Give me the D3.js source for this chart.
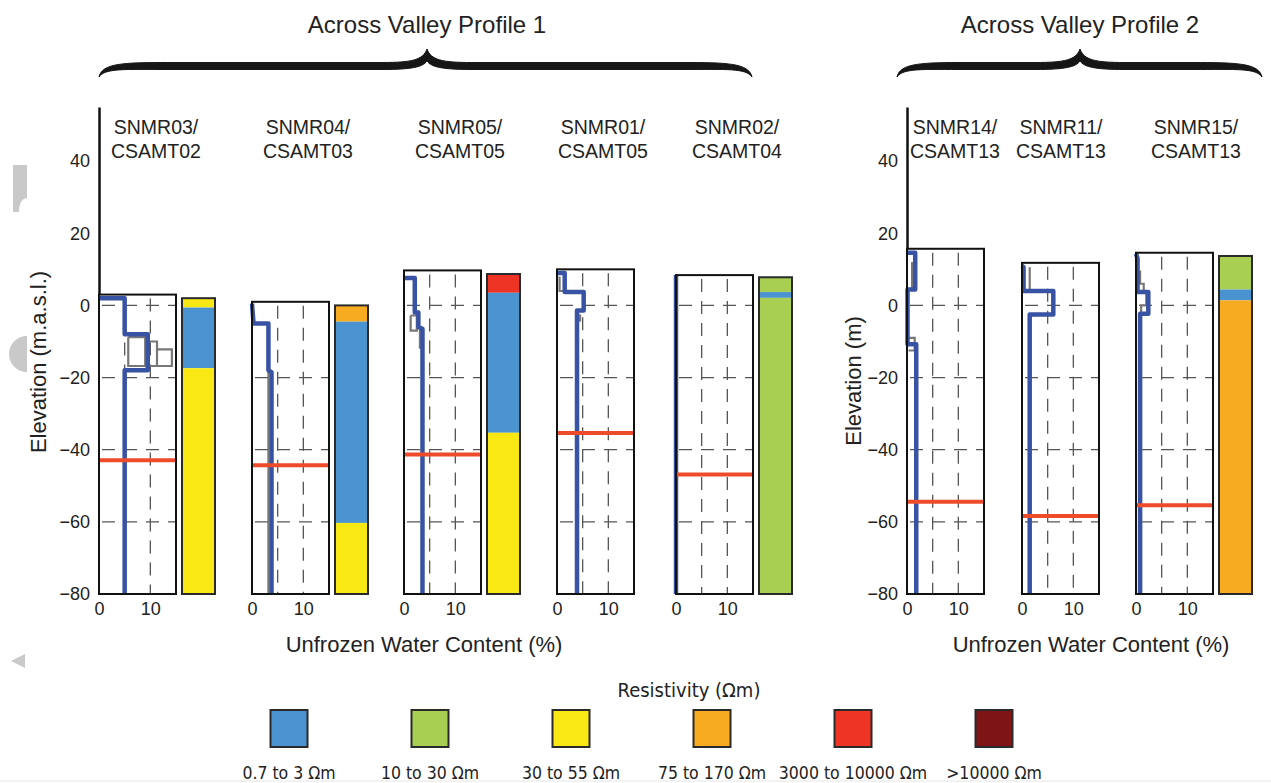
<!DOCTYPE html>
<html>
<head>
<meta charset="utf-8">
<script src="https://cdn.jsdelivr.net/npm/d3@7"></script>
<style>
  body { margin: 0; background: #fff; }
  svg { display: block; font-family: "Liberation Sans", Arial, Helvetica, sans-serif; }
  .narrow { font-family: "Liberation Sans Narrow", "DejaVu Sans Condensed", sans-serif; }
</style>
</head>
<body>
<script>
/********** Data **********/
var profileTitles = ["Across Valley Profile 1", "Across Valley Profile 2"]
var panelNames = [
  ["SNMR03/", "CSAMT02"], ["SNMR04/", "CSAMT03"], ["SNMR05/", "CSAMT05"],
  ["SNMR01/", "CSAMT05"], ["SNMR02/", "CSAMT04"],
  ["SNMR14/", "CSAMT13"], ["SNMR11/", "CSAMT13"], ["SNMR15/", "CSAMT13"]
]
var panelProfile = [1, 1, 1, 1, 1, 2, 2, 2]
// top of the SNMR model (m)
var boxTops = [3, 1, 9.7, 10, 8.4, 15.7, 11.8, 14.6]
// red line: depth of the frozen layer base (m)
var freezeDepth = [-42.9, -44.3, -41.3, -35.4, -46.9, -54.4, -58.4, -55.4]
// unfrozen water content profiles [percent, elevation]
var waterProfiles = [
  [[0, 2], [5, 2], [5, -8], [9.5, -8], [9.5, -18], [5, -18], [5, -80]],
  [[0, 0.5], [0.3, -5], [3.2, -5], [3.2, -18], [3.8, -18.5], [3.8, -80]],
  [[0, 7.6], [2.1, 7.6], [2.1, -2], [2.8, -2], [2.8, -6], [3.6, -6.5], [3.6, -80]],
  [[0, 9], [1.5, 9], [1.5, 3.7], [5.2, 3.7], [5.2, -1.4], [3.9, -1.4], [3.9, -80]],
  [[0, 8.4], [0, -80]],
  [[0, 14.6], [1.6, 14.6], [1.6, 4.4], [0.1, 4.4], [0.1, -10.8], [1.8, -10.8], [1.8, -80]],
  [[0, 11], [0.3, 10.6], [0.3, 4], [6.1, 4], [6.1, -2.5], [1.5, -2.5], [1.5, -80]],
  [[0, 14.3], [0.3, 13], [0.3, 3.7], [2.4, 3.7], [2.4, -2.3], [0.8, -2.3], [0.8, -80]]
]
// alternative (uncertainty) models, drawn in gray
var grayProfiles = [
  [[[5.7, -8.8], [5.7, -16.8], [14.2, -16.8], [14.2, -12.2], [11.3, -12.2], [11.3, -10], [9, -10], [9, -8.8], [5.7, -8.8]],
   [[9, -10], [9, -16.8]], [[11.3, -12.2], [11.3, -16.8]]],
  [[[3.2, -18], [3.2, -80]]],
  [[[1.3, -2.8], [1.3, -7], [2.5, -7], [2.5, -2.8], [1.3, -2.8]], [[3.1, -6], [3.1, -12]]],
  [[[0.5, 8], [0.5, 4], [1.5, 4]], [[4.5, -2.5], [4.5, -4.5]]],
  [],
  [[[1, 12], [1, 5], [1.5, 5]], [[0.3, -9], [1.5, -9], [1.5, -12.5], [0.3, -12.5]]],
  [[[1.5, 10.6], [1.5, 4.2]], [[6, 4.2], [6, -2.5], [1.5, -2.8]]],
  [[[0.8, 9.7], [0.8, 6], [1.5, 6], [1.5, 4], [2, 4], [2, 0], [1, 0], [1, -3]]]
]
// CSAMT resistivity columns [top, bottom, class]
var resistivityLayers = [
  [[2, -0.6, 2], [-0.6, -17.4, 0], [-17.4, -80, 2]],
  [[0, -4.5, 3], [-4.5, -60.3, 0], [-60.3, -80, 2]],
  [[8.7, 3.5, 4], [3.5, -35.3, 0], [-35.3, -80, 2]],
  null,
  [[7.8, 3.7, 1], [3.7, 2.1, 0], [2.1, -80, 1]],
  null,
  null,
  [[13.7, 4.4, 1], [4.4, 1.4, 0], [1.4, -80, 3]]
]
var legendLabels = ["0.7 to 3 \u03A9m", "10 to 30 \u03A9m", "30 to 55 \u03A9m", "75 to 170 \u03A9m", "3000 to 10000 \u03A9m", ">10000 \u03A9m"]
var legendColors = ["#4a93d0", "#a8cf52", "#f9e814", "#f6ab21", "#ee3424", "#7e1416"]
var yTicks = [40, 20, 0, -20, -40, -60, -80]
var xTicks = [0, 10]
var gridY = [20, 0, -20, -40, -60]
var gridX = [5, 10]

/********** Layout **********/
var width = 1271, height = 783
var panelX0 = [99, 252, 404, 557, 676, 907, 1022, 1136]
var panelW = 77, barOffset = 83, barW = 33
var axisX = [99, 907]
var nameX = [156, 308, 460, 603, 737, 955, 1061, 1196]

var svg = d3.select("body").append("svg")
    .attr("width", width)
    .attr("height", height)

var y = d3.scaleLinear().domain([-80, 55]).range([594, 107])

// gray artifacts on the left edge of the scan
var art = svg.append("g").attr("fill", "#c9c9c9")
art.append("path").attr("d", "M13,165 L27,165 L27,198 Q19,199 19,212 L13,212 Z")
art.append("path").attr("d", "M27,336 A18,18 0 0,0 27,372 Z")
art.append("path").attr("d", "M11,661 L25,654 L25,668 Z")

// titles and braces (filled, tapered)
function brace(x0, x1, xm, yTip, yB, yEnd) {
  var h = 3.5
  return "M" + x0 + "," + yEnd +
    " C" + (x0 + 3) + "," + (yB - 3) + " " + (x0 + 25) + "," + (yB - h) + " " + (x0 + 70) + "," + (yB - h) +
    " L" + (xm - 45) + "," + (yB - h) +
    " C" + (xm - 15) + "," + (yB - h) + " " + (xm - 4) + "," + (yB - 6) + " " + xm + "," + yTip +
    " C" + (xm + 4) + "," + (yB - 6) + " " + (xm + 15) + "," + (yB - h) + " " + (xm + 45) + "," + (yB - h) +
    " L" + (x1 - 70) + "," + (yB - h) +
    " C" + (x1 - 25) + "," + (yB - h) + " " + (x1 - 3) + "," + (yB - 3) + " " + x1 + "," + yEnd +
    " C" + (x1 - 6) + "," + (yB + 2) + " " + (x1 - 25) + "," + (yB + h) + " " + (x1 - 70) + "," + (yB + h) +
    " L" + (xm + 45) + "," + (yB + h) +
    " C" + (xm + 15) + "," + (yB + h) + " " + (xm + 4) + "," + (yB + 1) + " " + xm + "," + (yB - 5) +
    " C" + (xm - 4) + "," + (yB + 1) + " " + (xm - 15) + "," + (yB + h) + " " + (xm - 45) + "," + (yB + h) +
    " L" + (x0 + 70) + "," + (yB + h) +
    " C" + (x0 + 25) + "," + (yB + h) + " " + (x0 + 6) + "," + (yB + 2) + " " + x0 + "," + yEnd + " Z"
}
var braces = [[99, 752, 427], [897, 1262, 1080]]
braces.forEach(function(b, i) {
  svg.append("path")
    .attr("d", brace(b[0], b[1], b[2], 49, 66, 77))
    .attr("fill", "#161616")
    .attr("stroke", "#161616")
    .attr("stroke-width", 1)
  svg.append("text")
    .attr("x", b[2])
    .attr("y", 33)
    .attr("text-anchor", "middle")
    .style("font-size", "24px")
    .attr("fill", "#222")
    .text(profileTitles[i])
})

// y axes
var yLabels = ["Elevation (m.a.s.l.)", "Elevation (m)"]
var yLabelX = [46, 861]
axisX.forEach(function(ax, i) {
  var g = svg.append("g")
    .attr("transform", "translate(" + ax + ",0)")
    .call(d3.axisLeft(y).tickValues(yTicks).tickSize(0).tickSizeOuter(0).tickPadding(9))
  g.select(".domain").attr("stroke", "#111").attr("stroke-width", 2.5)
  g.selectAll("text").style("font-size", "18px").attr("fill", "#222")
  svg.append("text")
    .attr("transform", "translate(" + yLabelX[i] + "," + (i == 0 ? 362 : 381) + ") rotate(-90)")
    .attr("text-anchor", "middle")
    .style("font-size", "22px")
    .attr("fill", "#222")
    .text(yLabels[i])
})

// panels
var blueLine = "#3953a4", redLine = "#ee4b2b"
panelX0.forEach(function(x0, i) {
  var x = d3.scaleLinear().domain([0, 15]).range([x0, x0 + panelW])
  var g = svg.append("g")
  var top = boxTops[i]

  g.append("rect")
    .attr("x", x(0)).attr("y", y(top))
    .attr("width", x(15) - x(0)).attr("height", y(-80) - y(top))
    .attr("fill", "#fff")

  // dashed grid
  g.selectAll(".gy").data(gridY.filter(function(d) { return d < top - 1 }))
    .enter().append("line")
    .attr("x1", x(0)).attr("x2", x(15))
    .attr("y1", function(d) { return y(d) }).attr("y2", function(d) { return y(d) })
    .attr("stroke", "#555").attr("stroke-width", 1.3).attr("stroke-dasharray", "13,9")
    .attr("stroke-dashoffset", -3)
  g.selectAll(".gx").data(gridX)
    .enter().append("line")
    .attr("x1", function(d) { return x(d) }).attr("x2", function(d) { return x(d) })
    .attr("y1", y(top) + 4).attr("y2", y(-80))
    .attr("stroke", "#555").attr("stroke-width", 1.3).attr("stroke-dasharray", "13,9")

  var line = d3.line()
    .x(function(d) { return x(d[0]) })
    .y(function(d) { return y(d[1]) })

  grayProfiles[i].forEach(function(p) {
    g.append("path").datum(p)
      .attr("d", line)
      .attr("fill", "none")
      .attr("stroke", "#777")
      .attr("stroke-width", 2.2)
  })

  g.append("path").datum(waterProfiles[i])
    .attr("d", line)
    .attr("fill", "none")
    .attr("stroke", blueLine)
    .attr("stroke-width", 4.5)
    .attr("stroke-linejoin", "round")

  g.append("line")
    .attr("x1", x(0) + 1).attr("x2", x(15) - 1)
    .attr("y1", y(freezeDepth[i])).attr("y2", y(freezeDepth[i]))
    .attr("stroke", redLine).attr("stroke-width", 4)

  g.append("rect")
    .attr("x", x(0)).attr("y", y(top))
    .attr("width", x(15) - x(0)).attr("height", y(-80) - y(top))
    .attr("fill", "none").attr("stroke", "#111").attr("stroke-width", 2)

  // resistivity column
  if (resistivityLayers[i]) {
    var bx = x0 + barOffset
    var layers = resistivityLayers[i]
    g.selectAll(".layer").data(layers).enter().append("rect")
      .attr("x", bx)
      .attr("y", function(d) { return y(d[0]) })
      .attr("width", barW)
      .attr("height", function(d) { return y(d[1]) - y(d[0]) })
      .attr("fill", function(d) { return legendColors[d[2]] })
    g.append("rect")
      .attr("x", bx).attr("y", y(layers[0][0]))
      .attr("width", barW).attr("height", y(-80) - y(layers[0][0]))
      .attr("fill", "none").attr("stroke", "#2a2a2a").attr("stroke-width", 2)
  }

  // x axis labels
  var xa = g.append("g")
    .attr("transform", "translate(0," + y(-80) + ")")
    .call(d3.axisBottom(x).tickValues(xTicks).tickSize(0).tickPadding(8))
  xa.select(".domain").remove()
  xa.selectAll("text").style("font-size", "18px").attr("fill", "#222")

  // station names
  var t = g.append("text")
    .attr("text-anchor", "middle")
    .style("font-size", "19.5px")
    .attr("fill", "#222")
  panelNames[i].forEach(function(s, k) {
    t.append("tspan").attr("x", nameX[i]).attr("y", 134 + k * 24).text(s)
  })
})

// x axis titles
var xTitleX = [424, 1091]
xTitleX.forEach(function(cx) {
  svg.append("text")
    .attr("x", cx).attr("y", 652)
    .attr("text-anchor", "middle")
    .style("font-size", "22px")
    .attr("fill", "#222")
    .text("Unfrozen Water Content (%)")
})

// legend
var legend = svg.append("g").attr("class", "narrow")
legend.append("text")
  .attr("x", 689).attr("y", 697)
  .attr("text-anchor", "middle")
  .style("font-size", "20px")
  .attr("fill", "#222")
  .text("Resistivity (\u03A9m)")
var lx = d3.scalePoint().domain(d3.range(legendLabels.length)).range([289, 994])
legendLabels.forEach(function(lab, i) {
  legend.append("rect")
    .attr("x", lx(i) - 18.5).attr("y", 710)
    .attr("width", 37).attr("height", 37)
    .attr("fill", legendColors[i])
    .attr("stroke", "#2a2a2a").attr("stroke-width", 2)
  legend.append("text")
    .attr("x", lx(i)).attr("y", 779)
    .attr("text-anchor", "middle")
    .style("font-size", "17.5px")
    .attr("fill", "#222")
    .text(lab)
})
svg.append("line")
  .attr("x1", 0).attr("x2", width).attr("y1", 781).attr("y2", 781)
  .attr("stroke", "#e6e6e6").attr("stroke-width", 1)
</script>
</body>
</html>
